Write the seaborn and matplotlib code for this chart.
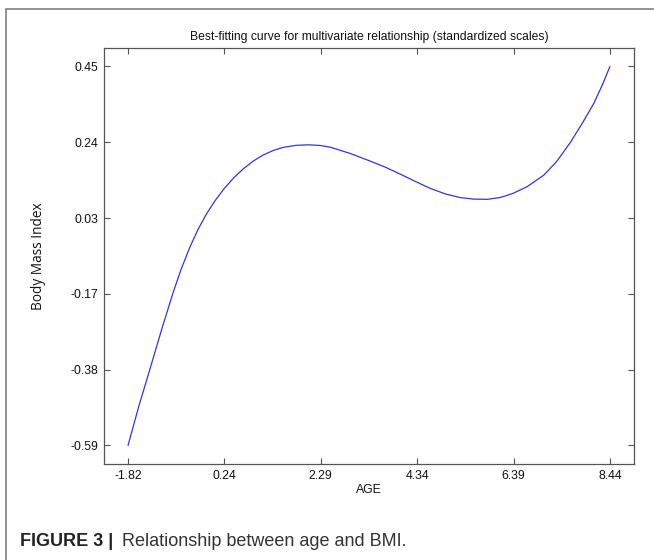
import matplotlib
matplotlib.use("Agg")
import matplotlib.pyplot as plt
import seaborn as sns
import pandas as pd
from matplotlib.patches import Rectangle

# Values
age = [-1.820, -1.592, -1.357, -1.112, -0.867, -0.685, -0.504, -0.333, -0.163,
       0.029, 0.221, 0.424, 0.633, 0.846, 1.060, 1.273, 1.486, 1.757, 2.020,
       2.269, 2.483, 2.909, 3.336, 3.656, 3.976, 4.296, 4.616, 4.936, 5.256,
       5.539, 5.832, 6.109, 6.365, 6.678, 7.032, 7.303, 7.602, 7.858, 8.099,
       8.285, 8.440]
bmi = [-0.590, -0.483, -0.382, -0.275, -0.173, -0.105, -0.046, 0.0017, 0.0423,
       0.0809, 0.1138, 0.1434, 0.1689, 0.1903, 0.2071, 0.2194, 0.2279, 0.2334,
       0.2348, 0.2331, 0.2284, 0.2112, 0.1901, 0.1736, 0.1544, 0.1344, 0.1152,
       0.1001, 0.0900, 0.0859, 0.0853, 0.0905, 0.1010, 0.1201, 0.1517, 0.1887,
       0.2422, 0.2956, 0.3491, 0.4012, 0.450]

x_ticks = [-1.82, 0.232, 2.284, 4.336, 6.388, 8.44]
x_tick_labels = ["-1.82", "0.24", "2.29", "4.34", "6.39", "8.44"]
y_ticks = [-0.59, -0.382, -0.174, 0.034, 0.242, 0.45]
y_tick_labels = ["-0.59", "-0.38", "-0.17", "0.03", "0.24", "0.45"]

title = "Best-fitting curve for multivariate relationship (standardized scales)"
x_label = "AGE"
y_label = "Body Mass Index"
caption_bold = "FIGURE 3 |"
caption_text = "Relationship between age and BMI."

sns.set_theme(style="white")
plt.rcParams['font.family'] = ['Liberation Sans', 'DejaVu Sans']

fig = plt.figure(figsize=(6.54, 5.6), dpi=100)
ax = fig.add_axes([104/654, 1-464/560, (634-104)/654, (464-48)/560])

df = pd.DataFrame({"AGE": age, "BMI": bmi})
sns.lineplot(data=df, x="AGE", y="BMI", ax=ax, sort=False, estimator=None,
             color="#3535d8", linewidth=0.9)

ax.set_xlim(-2.332, 8.952)
ax.set_ylim(-0.641, 0.5005)
ax.set_xticks(x_ticks)
ax.set_xticklabels(x_tick_labels)
ax.set_yticks(y_ticks)
ax.set_yticklabels(y_tick_labels)
ax.tick_params(direction="in", length=4, width=0.8, color="#555555",
               top=True, right=True, bottom=True, left=True,
               labelsize=8.8, labelcolor="#111111", pad=4)
for s in ax.spines.values():
    s.set_color("#555555")
    s.set_linewidth(0.9)

ax.set_xlabel(x_label, fontsize=8.8, labelpad=2, color="#111111")
ax.set_ylabel(y_label, fontsize=9.8, labelpad=18, color="#111111",
              family=["Open Sans", "DejaVu Sans"])
ax.set_title(title, fontsize=8.7, pad=6, color="#111111")

# outer figure frame
fig.patches.append(Rectangle((6/654, -0.1), 1.2, 1 - 9/560 + 0.1,
                             transform=fig.transFigure, fill=False,
                             edgecolor="#8a8a8a", linewidth=1.3))

fig.text(20/654, 1-541/560, caption_bold, fontsize=13, fontweight="bold",
         va="center", ha="left", color="#222222")
fig.text(122/654, 1-541/560, caption_text, fontsize=13,
         va="center", ha="left", color="#333333")

fig.savefig("out.png", dpi=100)
